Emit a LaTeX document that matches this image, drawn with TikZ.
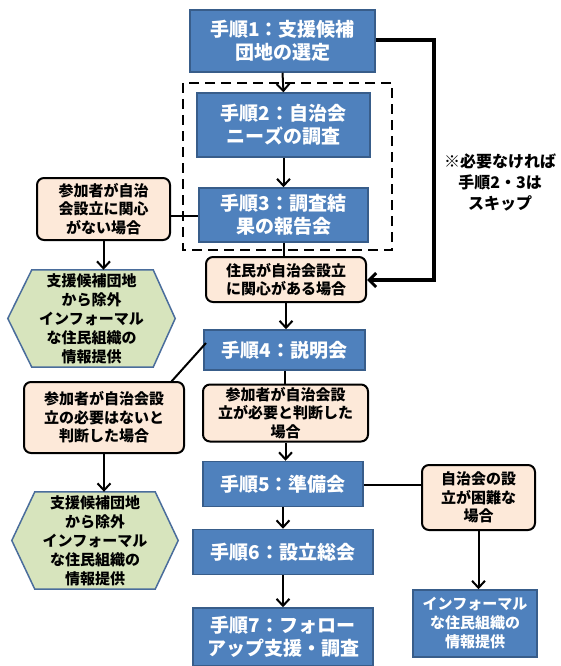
\documentclass[tikz,border=0pt]{standalone}
\usepackage{fontspec}
\newfontfamily\jp{Noto Sans CJK JP}
\usetikzlibrary{arrows.meta,calc,backgrounds}
\definecolor{bluefill}{HTML}{4F81BD}
\definecolor{blueline}{HTML}{385D8A}
\definecolor{peach}{HTML}{FDE9D9}
\definecolor{hexfill}{HTML}{D7E4BD}
\definecolor{hexline}{HTML}{4A6D9C}
\tikzset{
  stepbox/.style={draw=blueline, fill=bluefill, line width=1.5pt, text=white,
    font=\jp\bfseries\fontsize{19}{23}\selectfont, align=center, inner sep=0pt},
  condbox/.style={draw=black, fill=peach, line width=2pt, rounded corners=7pt,
    font=\jp\bfseries\fontsize{15}{18.5}\selectfont, align=center, inner sep=0pt},
  hextext/.style={font=\jp\bfseries\fontsize{15}{19}\selectfont, align=center, inner sep=0pt},
  hexshape/.style={draw=hexline, fill=hexfill, line width=1.5pt},
  conn/.style={draw=black, line width=2pt},
  arr/.style={conn, -{Straight Barb[length=7pt,width=13pt,line width=2pt]}},
  skiparr/.style={draw=black, line width=3.2pt, -{Straight Barb[length=7pt,width=14pt,line width=3pt]}},
  grp/.style={draw=black, line width=2.3pt, dash pattern=on 10pt off 6pt},
}
\begin{document}
\begin{tikzpicture}[x=1pt,y=-1pt]
\useasboundingbox (0,0) rectangle (561,666);

% dashed group
\draw[grp] (183,83) rectangle (392,250);

% main steps
\node[stepbox, minimum width=185pt, minimum height=62pt] (s1) at (282.5,41) {手順1：支援候補\\団地の選定};
\node[stepbox, minimum width=173pt, minimum height=64pt] (s2) at (283.5,125) {手順2：自治会\\ニーズの調査};
\node[stepbox, minimum width=169pt, minimum height=54pt] (s3) at (283.5,215) {手順3：調査結\\果の報告会};
\node[condbox, minimum width=160pt, minimum height=45pt] (c1) at (286,279.5) {住民が自治会設立\\に関心がある場合};
\node[stepbox, minimum width=161pt, minimum height=40pt] (s4) at (284.5,350) {手順4：説明会};
\node[condbox, minimum width=165pt, minimum height=57pt] (c2) at (285.5,413) {参加者が自治会設\\立が必要と判断した\\場合};
\node[stepbox, minimum width=160pt, minimum height=45pt] (s5) at (283,484) {手順5：準備会};
\node[stepbox, minimum width=180pt, minimum height=45pt] (s6) at (283,552) {手順6：設立総会};
\node[stepbox, minimum width=180pt, minimum height=58pt] (s7) at (283,637) {手順7：フォロー\\アップ支援・調査};

% left branches
\node[condbox, minimum width=133pt, minimum height=62pt] (l1) at (103.5,209) {参加者が自治\\会設立に関心\\がない場合};
\node[hextext, minimum width=167pt, minimum height=97pt] (h1) at (91.5,318.5) {支援候補団地\\から除外\\インフォーマル\\な住民組織の\\情報提供};
\node[condbox, minimum width=160pt, minimum height=71pt] (l2) at (104,417.5) {参加者が自治会設\\立の必要はないと\\判断した場合};
\node[hextext, minimum width=166pt, minimum height=97pt] (h2) at (95,540.5) {支援候補団地\\から除外\\インフォーマル\\な住民組織の\\情報提供};

% right branch
\node[condbox, minimum width=113pt, minimum height=65pt] (r1) at (478.5,497.5) {自治会の設\\立が困難な\\場合};
\node[stepbox, minimum width=124pt, minimum height=67pt, font=\jp\bfseries\fontsize{15}{19}\selectfont] (r2) at (475,623.5) {インフォーマル\\な住民組織の\\情報提供};

% note
\node[font=\jp\bfseries\fontsize{16}{21}\selectfont, align=center, inner sep=0pt] (note) at (500,182) {※必要なければ\\手順2・3は\\スキップ};

% hexagons
\begin{scope}[on background layer]
\fill[white] (0,0) rectangle (561,666);
\path[hexshape] (h1.west) -- ($(h1.north west)+(24,0)$) -- ($(h1.north east)+(-22,0)$) -- (h1.east)
  -- ($(h1.south east)+(-22,0)$) -- ($(h1.south west)+(24,0)$) -- cycle;
\path[hexshape] (h2.west) -- ($(h2.north west)+(23,0)$) -- ($(h2.north east)+(-23,0)$) -- (h2.east)
  -- ($(h2.south east)+(-23,0)$) -- ($(h2.south west)+(23,0)$) -- cycle;
\end{scope}

% connectors
\draw[arr] (s1.south) -- (s2.north);
\draw[arr] (s2.south) -- (s3.north);
\draw[conn] (s3.south) -- (s3.south |- c1.north);
\draw[arr] (c1.south) -- (c1.south |- s4.north);
\coordinate (k1) at (434,40);
\coordinate (k2) at (434,280);
\draw[skiparr] (s1.east |- k1) -- (k1) -- (k2) -- (c1.east |- k2);
\draw[conn] (l1.east |- 0,216) -- (s3.west |- 0,216);
\draw[arr] (l1.south) -- (h1.north -| l1.south);
\coordinate (d1) at (206,343);
\draw[conn] (d1) -- ($(l2.north east)+(-14,1)$);
\draw[arr] (l2.south) -- (h2.north -| l2.south);
\draw[conn] (s4.south) -- (s4.south |- c2.north);
\draw[arr] (c2.south) -- (c2.south |- s5.north);
\draw[arr] (s5.south) -- (s6.north);
\draw[arr] (s6.south) -- (s7.north);
\draw[conn] (s5.east |- 0,485) -- (r1.west |- 0,485);
\draw[arr] (r1.south) -- (r1.south |- r2.north);
\end{tikzpicture}
\end{document}
